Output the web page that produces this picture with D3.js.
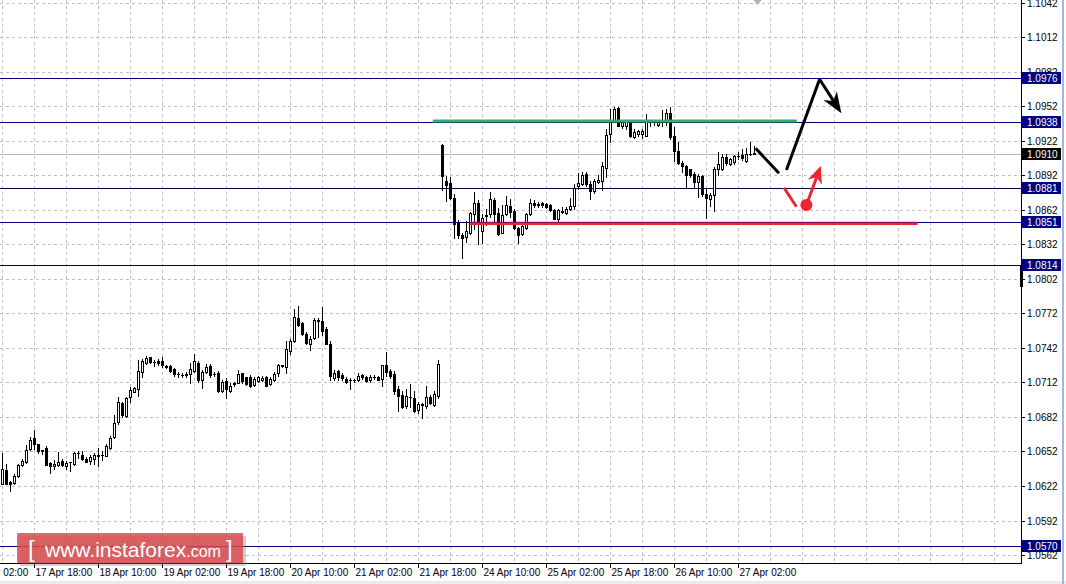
<!DOCTYPE html>
<html><head><meta charset="utf-8">
<script src="https://cdn.jsdelivr.net/npm/d3@7"></script>
<style>body{margin:0;background:#fff;overflow:hidden}svg{display:block}</style>
</head><body>
<svg id="c" width="1066" height="584"></svg>
<script>
// ---------- DATA (EURUSD H1, bar 0 = 17 Apr 10:00) ----------
const opens=[1.06241,1.06357,1.06256,1.06247,1.06308,1.06401,1.06430,1.06540,1.06633,1.06583,
1.06531,1.06548,1.06421,1.06392,1.06403,1.06441,1.06398,1.06430,1.06409,1.06505,
1.06488,1.06456,1.06435,1.06453,1.06479,1.06490,1.06485,1.06546,1.06644,1.06772,
1.06937,1.06830,1.06989,1.07039,1.07059,1.07207,1.07285,1.07337,1.07297,1.07305,
1.07305,1.07259,1.07262,1.07236,1.07192,1.07186,1.07186,1.07192,1.07218,1.07285,
1.07137,1.07213,1.07259,1.07192,1.07198,1.07047,1.07134,1.07047,1.07108,1.07117,
1.07198,1.07163,1.07168,1.07101,1.07130,1.07139,1.07168,1.07107,1.07139,1.07203,
1.07267,1.07255,1.07392,1.07479,1.07683,1.07639,1.07543,1.07450,1.07508,1.07654,
1.07654,1.07587,1.07450,1.07159,1.07217,1.07188,1.07153,1.07139,1.07139,1.07139,
1.07182,1.07168,1.07139,1.07168,1.07168,1.07150,1.07267,1.07223,1.07197,1.07063,
1.07013,1.06912,1.06990,1.06984,1.06877,1.06926,1.06912,1.06990,1.06926,1.07005,
1.09185,1.08871,1.08851,1.08725,1.08513,1.08397,1.08382,1.08414,1.08580,1.08682,
1.08434,1.08571,1.08580,1.08702,1.08589,1.08420,1.08580,1.08653,1.08609,1.08464,
1.08405,1.08464,1.08580,1.08682,1.08667,1.08676,1.08667,1.08659,1.08618,1.08542,
1.08603,1.08595,1.08624,1.08653,1.08822,1.08842,1.08929,1.08842,1.08784,1.08862,
1.08871,1.08979,1.09278,1.09403,1.09502,1.09345,1.09351,1.09380,1.09249,1.09278,
1.09278,1.09264,1.09386,1.09380,1.09357,1.09383,1.09403,1.09462,1.09258,1.09133,
1.09025,1.09002,1.08973,1.08929,1.08862,1.08909,1.08754,1.08717,1.08746,1.08973,
1.08978,1.09074,1.09016,1.09031,1.09083,1.09095,1.09045,1.09104,1.09110];
const highs=[1.06508,1.06409,1.06261,1.06328,1.06415,1.06459,1.06575,1.06647,1.06705,1.06589,
1.06537,1.06566,1.06430,1.06444,1.06514,1.06456,1.06438,1.06432,1.06517,1.06525,
1.06525,1.06473,1.06488,1.06508,1.06546,1.06525,1.06583,1.06653,1.06836,1.06989,
1.06946,1.06995,1.07076,1.07076,1.07314,1.07320,1.07349,1.07343,1.07314,1.07320,
1.07343,1.07271,1.07271,1.07242,1.07213,1.07198,1.07213,1.07285,1.07366,1.07305,
1.07224,1.07279,1.07279,1.07213,1.07218,1.07140,1.07155,1.07111,1.07126,1.07224,
1.07204,1.07169,1.07188,1.07168,1.07179,1.07179,1.07179,1.07168,1.07208,1.07284,
1.07275,1.07479,1.07494,1.07755,1.07785,1.07648,1.07558,1.07523,1.07683,1.07683,
1.07779,1.07604,1.07479,1.07226,1.07232,1.07203,1.07168,1.07159,1.07150,1.07203,
1.07197,1.07179,1.07188,1.07188,1.07179,1.07275,1.07383,1.07237,1.07217,1.07086,
1.07042,1.07063,1.07107,1.07042,1.06946,1.06941,1.07086,1.07013,1.07042,1.07313,
1.09191,1.08915,1.08900,1.08755,1.08531,1.08414,1.08522,1.08600,1.08775,1.08705,
1.08580,1.08624,1.08775,1.08725,1.08638,1.08659,1.08740,1.08711,1.08624,1.08472,
1.08493,1.08589,1.08711,1.08705,1.08688,1.08688,1.08682,1.08667,1.08624,1.08624,
1.08647,1.08647,1.08725,1.08842,1.08938,1.08950,1.08950,1.08871,1.08886,1.08920,
1.09031,1.09322,1.09491,1.09511,1.09511,1.09403,1.09403,1.09395,1.09322,1.09316,
1.09322,1.09453,1.09403,1.09395,1.09403,1.09482,1.09496,1.09511,1.09336,1.09205,
1.09045,1.09008,1.08978,1.08944,1.08929,1.08920,1.08813,1.08763,1.08987,1.09124,
1.09104,1.09104,1.09066,1.09095,1.09118,1.09147,1.09153,1.09205,1.09170];
const lows=[1.06235,1.06235,1.06177,1.06241,1.06299,1.06392,1.06424,1.06531,1.06540,1.06508,
1.06496,1.06401,1.06334,1.06372,1.06392,1.06395,1.06369,1.06351,1.06401,1.06467,
1.06450,1.06430,1.06409,1.06409,1.06398,1.06444,1.06479,1.06540,1.06638,1.06757,
1.06821,1.06821,1.06946,1.07033,1.07004,1.07163,1.07279,1.07291,1.07262,1.07268,
1.07256,1.07247,1.07210,1.07175,1.07169,1.07163,1.07169,1.07117,1.07213,1.07126,
1.07068,1.07204,1.07169,1.07175,1.07039,1.07039,1.06986,1.07039,1.07091,1.07111,
1.07117,1.07094,1.07080,1.07086,1.07121,1.07130,1.07086,1.07101,1.07130,1.07173,
1.07255,1.07203,1.07371,1.07470,1.07610,1.07531,1.07450,1.07400,1.07499,1.07517,
1.07531,1.07450,1.07139,1.07144,1.07144,1.07139,1.07115,1.07063,1.07121,1.07130,
1.07150,1.07121,1.07121,1.07150,1.07139,1.07086,1.07179,1.07159,1.07022,1.06868,
1.06897,1.06897,1.06906,1.06859,1.06853,1.06813,1.06897,1.06935,1.06917,1.06984,
1.08792,1.08696,1.08717,1.08376,1.08376,1.08202,1.08338,1.08405,1.08449,1.08318,
1.08333,1.08484,1.08560,1.08493,1.08397,1.08414,1.08571,1.08560,1.08449,1.08333,
1.08397,1.08449,1.08571,1.08647,1.08647,1.08647,1.08635,1.08609,1.08536,1.08522,
1.08589,1.08580,1.08618,1.08629,1.08804,1.08833,1.08822,1.08711,1.08769,1.08851,
1.08792,1.08900,1.09205,1.09380,1.09345,1.09328,1.09322,1.09249,1.09240,1.09264,
1.09240,1.09258,1.09351,1.09357,1.09345,1.09345,1.09357,1.09235,1.09045,1.09016,
1.08944,1.08813,1.08900,1.08813,1.08734,1.08740,1.08551,1.08653,1.08609,1.08920,
1.08967,1.09008,1.09008,1.09016,1.09060,1.09054,1.09037,1.09095,1.09104];
const closes=[1.06372,1.06241,1.06241,1.06305,1.06401,1.06441,1.06537,1.06618,1.06589,1.06525,
1.06528,1.06403,1.06392,1.06415,1.06432,1.06403,1.06421,1.06432,1.06511,1.06508,
1.06456,1.06432,1.06473,1.06488,1.06488,1.06493,1.06566,1.06638,1.06769,1.06946,
1.06841,1.06983,1.07053,1.07068,1.07218,1.07305,1.07329,1.07297,1.07294,1.07285,
1.07271,1.07256,1.07215,1.07195,1.07189,1.07184,1.07192,1.07233,1.07305,1.07140,
1.07207,1.07250,1.07181,1.07189,1.07044,1.07123,1.07059,1.07085,1.07111,1.07192,
1.07134,1.07105,1.07086,1.07150,1.07168,1.07159,1.07086,1.07150,1.07197,1.07267,
1.07264,1.07406,1.07479,1.07691,1.07616,1.07537,1.07464,1.07494,1.07659,1.07659,
1.07566,1.07456,1.07173,1.07203,1.07168,1.07159,1.07121,1.07144,1.07139,1.07179,
1.07168,1.07130,1.07168,1.07165,1.07144,1.07267,1.07208,1.07179,1.07042,1.06999,
1.06906,1.07005,1.06993,1.06868,1.06932,1.06929,1.06990,1.06941,1.07022,1.07284,
1.08915,1.08833,1.08725,1.08493,1.08397,1.08376,1.08434,1.08589,1.08676,1.08522,
1.08551,1.08568,1.08711,1.08580,1.08405,1.08571,1.08659,1.08600,1.08464,1.08397,
1.08478,1.08580,1.08676,1.08659,1.08664,1.08659,1.08647,1.08618,1.08542,1.08618,
1.08606,1.08624,1.08653,1.08813,1.08856,1.08920,1.08842,1.08784,1.08871,1.08880,
1.08996,1.09270,1.09380,1.09491,1.09351,1.09380,1.09395,1.09264,1.09298,1.09307,
1.09307,1.09395,1.09383,1.09383,1.09386,1.09380,1.09462,1.09249,1.09133,1.09025,
1.08996,1.08920,1.08920,1.08862,1.08909,1.08754,1.08725,1.08746,1.08978,1.09016,
1.09074,1.09025,1.09060,1.09089,1.09086,1.09066,1.09104,1.09101,1.09100];

const timeTickBars=[-8,8,24,40,56,72,88,104,120,136,152,168,184];
const timeTickLabels=["17 Apr 02:00","17 Apr 18:00","18 Apr 10:00","19 Apr 02:00","19 Apr 18:00","20 Apr 10:00","21 Apr 02:00","21 Apr 18:00","24 Apr 10:00","25 Apr 02:00","25 Apr 18:00","26 Apr 10:00","27 Apr 02:00"];
const priceTicks=[1.0562,1.0592,1.0622,1.0652,1.0682,1.0712,1.0742,1.0772,1.0802,1.0832,1.0862,1.0892,1.0922,1.0952,1.0982,1.1012,1.1042];
const levelPrices=[1.0976,1.0938,1.0910,1.0881,1.0851,1.0814,1.0570];
const levelKinds=["level","level","bid","level2","level","level2","level"];

// analyst drawings (bar index, price)
const resistanceZone=[[107.7,1.0939],[198.7,1.0939]];
const supportZone=[[116.9,1.08502],[228.9,1.08502]];
const blackPathA=[[188.4,1.09154],[194.25,1.08936]];
const blackPathB=[[196.1,1.08965],[204.4,1.09753],[209.85,1.09458]];
const redPathA=[[195.5,1.08811],[198.6,1.08646]];
const redArrow=[[201.1,1.08661],[204.7,1.08999]];

// ---------- STYLES ----------
const S={grid:"#c0c0c0",axis:"#000",navy:"#000080",dark:"#000050",bid:"#b4b4b4",
 green:"#33b061",red:"#ee2430",font:"'Liberation Sans',Arial,sans-serif"};

const svg=d3.select("#c");
const plotR=1021, plotB=563;
const x=d3.scaleLinear().domain([0,1]).range([2,6]);
const y=d3.scaleLinear().domain([1.0562,1.1042]).range([555.1,2.5]);
const px=v=>Math.round(x(v))+0.5;
const py=v=>Math.round(y(v))+0.5;

svg.append("rect").attr("width",1066).attr("height",584).attr("fill","#fff");
const plot=svg.append("g");
plot.append("clipPath").attr("id","clip").append("rect").attr("x",0).attr("y",0).attr("width",plotR).attr("height",plotB);
const g=plot.append("g").attr("clip-path","url(#clip)");

// grid
const vBars=d3.range(0,260,8).filter(k=>x(k)<plotR-2);
g.append("g").selectAll("line").data(vBars).join("line")
 .attr("x1",px).attr("x2",px).attr("y1",0).attr("y2",plotB)
 .attr("stroke",S.grid).attr("stroke-dasharray","3,3").attr("shape-rendering","crispEdges");
g.append("g").selectAll("line").data(priceTicks).join("line")
 .attr("x1",0).attr("x2",plotR).attr("y1",py).attr("y2",py)
 .attr("stroke",S.grid).attr("stroke-dasharray","3,3").attr("shape-rendering","crispEdges");

// level lines
const levelColor=k=>k==="bid"?S.bid:(k==="level2"?S.dark:S.navy);
g.append("g").selectAll("line").data(levelPrices).join("line")
 .attr("x1",0).attr("x2",plotR).attr("y1",py).attr("y2",py)
 .attr("stroke",(d,i)=>levelColor(levelKinds[i])).attr("shape-rendering","crispEdges");

// candles
const bars=opens.map((o,i)=>({i,o,h:highs[i],l:lows[i],c:closes[i]}));
const cg=g.append("g").attr("shape-rendering","crispEdges");
bars.forEach(b=>{
  const cx=px(b.i);
  cg.append("line").attr("x1",cx).attr("x2",cx).attr("y1",Math.round(y(b.h))).attr("y2",Math.round(y(b.l))+1).attr("stroke","#000");
  const t=Math.round(y(Math.max(b.o,b.c))), bt=Math.round(y(Math.min(b.o,b.c)));
  if(bt-t<1){
    cg.append("line").attr("x1",cx-1.5).attr("x2",cx+1.5).attr("y1",t+0.5).attr("y2",t+0.5).attr("stroke","#000");
  } else {
    cg.append("rect").attr("x",cx-1).attr("width",2).attr("y",t+0.5).attr("height",bt-t)
      .attr("fill",b.c>=b.o?"#fff":"#000").attr("stroke","#000");
  }
});

// zones
const ln=d3.line().x(d=>x(d[0])).y(d=>y(d[1]));
g.append("path").attr("d",ln(resistanceZone)).attr("stroke",S.green).attr("stroke-width",3).attr("fill","none");
g.append("path").attr("d",ln(supportZone)).attr("stroke",S.red).attr("stroke-width",3.2).attr("fill","none");
g.append("line").attr("x1",x(supportZone[0][0])).attr("x2",x(supportZone[1][0])).attr("y1",py(1.0851)).attr("y2",py(1.0851))
 .attr("stroke",S.navy).attr("stroke-opacity",0.45).attr("shape-rendering","crispEdges");

// forecast paths
function arrowHead(p0,p1,len,half,color){
  const X0=x(p0[0]),Y0=y(p0[1]),X1=x(p1[0]),Y1=y(p1[1]);
  const dx=X1-X0,dy=Y1-Y0,L=Math.hypot(dx,dy),ux=dx/L,uy=dy/L,nx=-uy,ny=ux;
  const bx=X1-ux*len,by=Y1-uy*len, mx=X1-ux*len*0.7,my=Y1-uy*len*0.7;
  g.append("path").attr("d",`M${X1},${Y1}L${bx+nx*half},${by+ny*half}L${mx},${my}L${bx-nx*half},${by-ny*half}Z`).attr("fill",color);
  return [X1-ux*len*0.7,Y1-uy*len*0.7];
}
g.append("path").attr("d",ln(blackPathA)).attr("stroke","#000").attr("stroke-width",3).attr("fill","none");
const bB=blackPathB;
g.append("path").attr("d",ln(bB.slice(0,2))).attr("stroke","#000").attr("stroke-width",3).attr("fill","none");
const endB=arrowHead(bB[1],bB[2],21,8,"#000");
g.append("line").attr("x1",x(bB[1][0])).attr("y1",y(bB[1][1])).attr("x2",endB[0]).attr("y2",endB[1]).attr("stroke","#000").attr("stroke-width",3);

g.append("path").attr("d",ln(redPathA)).attr("stroke",S.red).attr("stroke-width",3).attr("fill","none");
const endR=arrowHead(redArrow[0],redArrow[1],17,7.5,S.red);
g.append("line").attr("x1",x(redArrow[0][0])).attr("y1",y(redArrow[0][1])).attr("x2",endR[0]).attr("y2",endR[1]).attr("stroke",S.red).attr("stroke-width",3);
g.append("circle").attr("cx",x(redArrow[0][0])).attr("cy",y(redArrow[0][1])).attr("r",6).attr("fill",S.red);

// small grey marker at the top
g.append("path").attr("d",`M${x(188.9)-4},0L${x(188.9)+4},0L${x(188.9)},5Z`).attr("fill","#b0b0b0");

// axes lines
svg.append("line").attr("x1",plotR+0.5).attr("x2",plotR+0.5).attr("y1",0).attr("y2",plotB+1).attr("stroke",S.axis).attr("shape-rendering","crispEdges");
svg.append("line").attr("x1",0).attr("x2",plotR+1).attr("y1",plotB+0.5).attr("y2",plotB+0.5).attr("stroke",S.axis).attr("shape-rendering","crispEdges");
svg.append("rect").attr("x",plotR-1).attr("y",Math.round(y(1.0814))).attr("width",3).attr("height",Math.round(y(1.0795)-y(1.0814))).attr("fill","#000");

// price axis
const ya=svg.append("g").attr("font-family",S.font).attr("font-size","10px");
priceTicks.forEach(p=>{
  const yy=py(p);
  ya.append("line").attr("x1",plotR).attr("x2",plotR+4).attr("y1",yy).attr("y2",yy).attr("stroke","#000").attr("shape-rendering","crispEdges");
  ya.append("text").attr("x",1027).attr("y",yy+3.5).text(d3.format(".4f")(p));
});
levelPrices.forEach((p,i)=>{
  const yy=Math.round(y(p));
  ya.append("rect").attr("x",1022).attr("y",yy-6).attr("width",39).attr("height",12)
    .attr("fill",levelKinds[i]==="bid"?"#000":S.navy);
  ya.append("text").attr("x",1027).attr("y",yy+4).attr("fill","#fff").text(d3.format(".4f")(p));
});

// time axis
const xa=svg.append("g").attr("font-family",S.font).attr("font-size","10px");
timeTickBars.forEach((k,i)=>{
  const xx=px(k);
  xa.append("line").attr("x1",xx).attr("x2",xx).attr("y1",plotB).attr("y2",plotB+5).attr("stroke","#000").attr("shape-rendering","crispEdges");
  xa.append("text").attr("x",xx+1).attr("y",576).text(timeTickLabels[i]);
});

// window edges
svg.append("rect").attr("x",0).attr("y",581).attr("width",1066).attr("height",3).attr("fill","#ececec");
svg.append("rect").attr("x",1062).attr("y",0).attr("width",2).attr("height",584).attr("fill","#9db9dc");

// logo
const logo=svg.append("g");
logo.append("rect").attr("x",20).attr("y",536).attr("width",226).attr("height",30).attr("fill","#777").attr("opacity",0.35);
logo.append("rect").attr("x",17).attr("y",533).attr("width",226).attr("height",30).attr("rx",1).attr("fill","#d9474a").attr("opacity",0.82);
const lt=logo.append("text").attr("y",557).attr("fill","#fff").attr("font-family",S.font);
lt.append("tspan").attr("x",28).attr("font-size","24px").text("[");
lt.append("tspan").attr("x",45).attr("font-size","21px").text("www.instaforex");
lt.append("tspan").attr("font-size","16px").text(".com");
lt.append("tspan").attr("x",226).attr("font-size","24px").text("]");
</script>
</body></html>
